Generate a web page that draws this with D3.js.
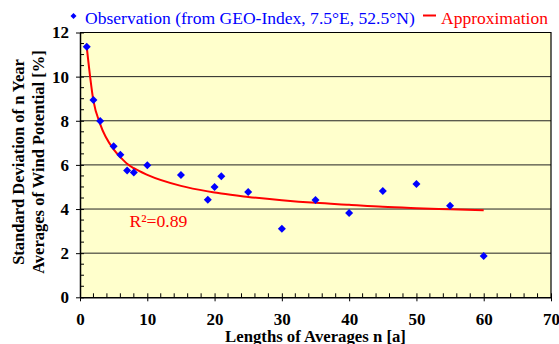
<!DOCTYPE html>
<html><head><meta charset="utf-8">
<script src="https://cdn.jsdelivr.net/npm/d3@7"></script>
<style>body{margin:0;background:#fff;} svg{display:block;}</style>
</head><body>
<svg id="c" width="559" height="344"></svg>
<script>
const obsN = [1,2,3,5,6,7,8,10,15,19,20,21,25,30,35,40,45,50,55,60];
const obsV = [11.35,8.94,7.99,6.84,6.46,5.75,5.66,5.98,5.54,4.42,5.0,5.48,4.77,3.11,4.41,3.82,4.82,5.13,4.15,1.87];
const approxN = [1,2,3,5,6,7,8,10,15,19,20,21,25,30,35,40,45,50,55,60];
const approxV = [11.35,8.9,7.85,6.7,6.35,6.05,5.85,5.55,5.05,4.8,4.75,4.7,4.55,4.4,4.28,4.19,4.1,4.04,3.99,3.94];
const xTicks = [0,10,20,30,40,50,60,70];
const yTicks = [0,2,4,6,8,10,12];
const legendLabels = ["Observation (from GEO-Index, 7.5°E, 52.5°N)", "Approximation"];
const xTitle = "Lengths of Averages n [a]";
const yTitle = ["Standard Deviation of n Year", "Averages of Wind Potential [%]"];
const r2Label = "R²=0.89";

const svg = d3.select("#c");
const L=80, R=551, T=32.5, B=297.3;
const x = d3.scaleLinear().domain([0,70]).range([L,R]);
const y = d3.scaleLinear().domain([0,12]).range([B,T]);
const font = "Liberation Serif, Times New Roman, serif";

function fit(sel, w){ const n=sel.node(); const cur=n.getComputedTextLength(); const fs=+sel.attr("font-size"); if(cur>0) sel.attr("font-size", fs*w/cur); }

svg.append("rect").attr("x",L).attr("y",T).attr("width",R-L).attr("height",B-T).attr("fill","#FFFFCC");

// grid
svg.append("g").selectAll("line").data(yTicks.filter(d=>d>0&&d<12)).join("line")
  .attr("x1",L).attr("x2",R).attr("y1",d=>y(d)).attr("y2",d=>y(d))
  .attr("stroke","#222").attr("stroke-width",1);

// minor ticks
const yMinor = d3.range(0,12.01,0.5).filter(v=>v%2!==0);
svg.append("g").selectAll("line").data(yMinor).join("line")
  .attr("x1",L).attr("x2",L+4).attr("y1",d=>y(d)).attr("y2",d=>y(d)).attr("stroke","#000");
const xMinor = d3.range(0,70.01,2).filter(v=>v%10!==0);
svg.append("g").selectAll("line").data(xMinor).join("line")
  .attr("x1",d=>x(d)).attr("x2",d=>x(d)).attr("y1",B).attr("y2",B-4).attr("stroke","#000");

// axes
const xAxis = d3.axisBottom(x).tickValues(xTicks).tickSizeInner(4).tickSizeOuter(0).tickPadding(12);
const gx = svg.append("g").attr("transform",`translate(0,${B})`).call(xAxis);
gx.selectAll(".tick line").attr("y1",-4).attr("y2",4).attr("stroke","#000");
gx.select(".domain").attr("stroke","#000").attr("stroke-width",1.5);
gx.selectAll("text").attr("font-family",font).attr("font-size",17).attr("font-weight","bold").attr("fill","#000");

const yAxis = d3.axisLeft(y).tickValues(yTicks).tickSizeInner(4).tickSizeOuter(0).tickPadding(7);
const gy = svg.append("g").attr("transform",`translate(${L},0)`).call(yAxis);
gy.selectAll(".tick line").attr("x1",-4).attr("x2",4).attr("stroke","#000");
gy.select(".domain").attr("stroke","#000").attr("stroke-width",1.5);
gy.selectAll("text").attr("font-family",font).attr("font-size",17).attr("font-weight","bold").attr("fill","#000");

// border top/right
svg.append("path").attr("d",`M${L},${T}H${R}V${B}`).attr("fill","none").attr("stroke","#000").attr("stroke-width",1.2);

// approximation line
const line = d3.line().x((d,i)=>x(approxN[i])).y(d=>y(d)).curve(d3.curveMonotoneX);
svg.append("path").datum(approxV).attr("d",line).attr("fill","none").attr("stroke","#FF0000").attr("stroke-width",2);

// observations
const dia = r => `M0,${-r}L${r},0L0,${r}L${-r},0Z`;
svg.append("g").selectAll("path").data(obsV).join("path")
  .attr("d",dia(4)).attr("transform",(d,i)=>`translate(${x(obsN[i])},${y(d)})`).attr("fill","#0000FF");

// R2
const r2 = svg.append("text").attr("x",129.5).attr("y",y(3.2)).attr("font-family",font).attr("font-size",17).attr("fill","#FF0000").text(r2Label);
fit(r2, 58);

// legend
svg.append("path").attr("d",dia(3)).attr("transform","translate(73.5,16)").attr("fill","#0000FF");
const l1 = svg.append("text").attr("x",85).attr("y",24).attr("font-family",font).attr("font-size",17).attr("fill","#0000FF").text(legendLabels[0]);
fit(l1, 330);
svg.append("line").attr("x1",423).attr("x2",436).attr("y1",15.5).attr("y2",15.5).attr("stroke","#FF0000").attr("stroke-width",2);
const l2 = svg.append("text").attr("x",441).attr("y",24).attr("font-family",font).attr("font-size",17).attr("fill","#FF0000").text(legendLabels[1]);
fit(l2, 107);

// titles
const xt = svg.append("text").attr("x",(L+R)/2).attr("y",342).attr("text-anchor","middle").attr("font-family",font)
  .attr("font-size",16).attr("font-weight","bold").text(xTitle);
fit(xt, 181);
const yt = svg.append("text").attr("transform",`translate(24,162) rotate(-90)`).attr("text-anchor","middle")
  .attr("font-family",font).attr("font-size",16.5).attr("font-weight","bold");
yt.append("tspan").attr("x",0).attr("dy",0).text(yTitle[0]);
yt.append("tspan").attr("x",0).attr("dy",20).text(yTitle[1]);
</script>
</body></html>
